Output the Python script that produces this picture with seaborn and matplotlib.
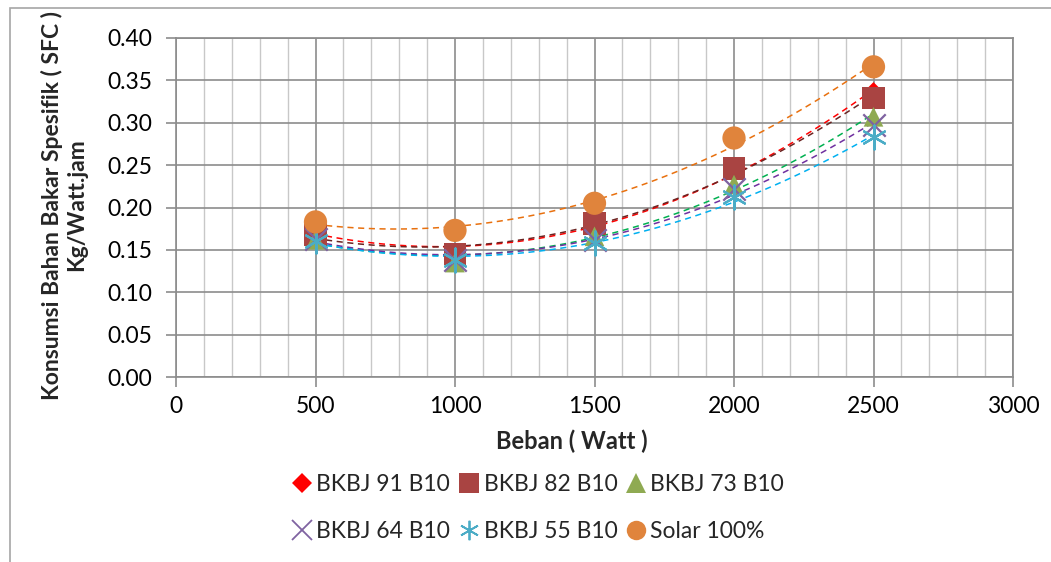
import numpy as np
import pandas as pd
import matplotlib
matplotlib.use("Agg")
import matplotlib.pyplot as plt
from matplotlib.patches import Rectangle
from matplotlib.lines import Line2D
import seaborn as sns

# ---- data ----
beban = [500, 1000, 1500, 2000, 2500]
bkbj91 = [0.172, 0.147, 0.180, 0.243, 0.337]
bkbj82 = [0.168, 0.145, 0.181, 0.246, 0.329]
bkbj73 = [0.162, 0.135, 0.166, 0.227, 0.307]
bkbj64 = [0.163, 0.138, 0.162, 0.222, 0.297]
bkbj55 = [0.160, 0.138, 0.158, 0.212, 0.283]
solar = [0.183, 0.173, 0.205, 0.282, 0.366]
series_names = ["BKBJ 91 B10", "BKBJ 82 B10", "BKBJ 73 B10",
                "BKBJ 64 B10", "BKBJ 55 B10", "Solar 100%"]
x_ticks = [0, 500, 1000, 1500, 2000, 2500, 3000]
y_ticks = [0.00, 0.05, 0.10, 0.15, 0.20, 0.25, 0.30, 0.35, 0.40]

series_values = [bkbj91, bkbj82, bkbj73, bkbj64, bkbj55, solar]
marker_colors = ["#FF0000", "#A94442", "#8FAA52", "#7F63A1", "#4BACC6", "#E0843C"]
trend_colors = ["#FF0000", "#6B2422", "#00B050", "#7030A0", "#00B0F0", "#E8700E"]
markers = ["D", "s", "^", "x", (6, 2, 0), "o"]
sizes = [90, 260, 200, 260, 300, 280]

sns.set_theme(style="white")
plt.rcParams["font.family"] = ["Lato", "DejaVu Sans"]

fig = plt.figure(figsize=(10.51, 5.62), dpi=100)
ax = fig.add_axes([176 / 1051, 1 - 377 / 562, (1013 - 176) / 1051, (377 - 38) / 562])

# chart border
fig.patches.append(Rectangle((10 / 1051, -0.05), 1.1, 1 - 8 / 562 + 0.05,
                             transform=fig.transFigure, fill=False,
                             edgecolor="#A6A6A6", linewidth=1.2))

rows = []
for name, vals in zip(series_names, series_values):
    for xv, yv in zip(beban, vals):
        rows.append({"Beban": xv, "SFC": yv, "Seri": name})
df = pd.DataFrame(rows)

# trendlines (order 2 polynomial)
for name, col in zip(series_names, trend_colors):
    sub = df[df["Seri"] == name]
    sns.regplot(data=sub, x="Beban", y="SFC", order=2, ci=None, scatter=False,
                ax=ax, line_kws=dict(color=col, ls=(0, (4, 3)), lw=1.1), truncate=True)

# markers
handles = []
for name, col, mk, sz in zip(series_names, marker_colors, markers, sizes):
    sub = df[df["Seri"] == name]
    is_line = mk == "x" or isinstance(mk, tuple)
    if is_line:
        sns.scatterplot(data=sub, x="Beban", y="SFC", marker=mk, s=sz, color=col,
                        linewidth=1.6, ax=ax, zorder=5, legend=False)
        handles.append(Line2D([], [], ls="", marker=mk, color=col, markersize=14,
                              markeredgewidth=1.3, label=name))
    else:
        sns.scatterplot(data=sub, x="Beban", y="SFC", marker=mk, s=sz, color=col,
                        edgecolor="none", ax=ax, zorder=5, legend=False)
        handles.append(Line2D([], [], ls="", marker=mk, color=col,
                              markersize=10 if mk == "D" else 14, markeredgewidth=0,
                              label=name))

ax.set_xlim(0, 3000)
ax.set_ylim(0, 0.40)
ax.set_xticks(x_ticks)
ax.set_xticks(np.arange(0, 3001, 100), minor=True)
ax.set_yticks(y_ticks)
ax.set_xticklabels([str(v) for v in x_ticks])
ax.set_yticklabels([f"{v:.2f}" for v in y_ticks])

ax.grid(True, which="minor", axis="x", color="#C8C8C8", lw=1.0)
ax.grid(True, which="major", axis="x", color="#8C8C8C", lw=1.2)
ax.grid(True, which="major", axis="y", color="#8C8C8C", lw=1.2)
ax.set_axisbelow(True)

for s in ["top", "right"]:
    ax.spines[s].set_visible(True)
    ax.spines[s].set_color("#8C8C8C")
for s in ["left", "bottom"]:
    ax.spines[s].set_color("#8C8C8C")
    ax.spines[s].set_linewidth(1.2)

ax.tick_params(axis="both", which="major", direction="out", length=7, width=1.2,
               color="#8C8C8C", labelsize=16.5, labelcolor="black", pad=10,
               bottom=True, left=True)
ax.tick_params(axis="x", which="major", pad=7)
ax.tick_params(axis="x", which="minor", length=0)

ax.set_xlabel("")
ax.set_ylabel("")
fig.text(572 / 1051, 1 - 441 / 562, "Beban ( Watt )", ha="center", va="center",
         fontsize=17, fontweight="bold")
fig.text(64 / 1051, 1 - 205 / 562, "Konsumsi Bahan Bakar Spesifik ( SFC )\nKg/Watt.jam",
         ha="center", va="center", rotation=90, fontsize=16.5, fontweight="bold",
         linespacing=1.2)

order = [0, 3, 1, 4, 2, 5]
fig.legend(handles=[handles[i] for i in order], loc="center",
           bbox_to_anchor=(536 / 1051, 1 - 508 / 562),
           ncol=3, frameon=False, fontsize=16.5, handletextpad=0.05, columnspacing=0.2,
           labelspacing=1.1, handlelength=1.2)

fig.savefig("out.png", dpi=100)
